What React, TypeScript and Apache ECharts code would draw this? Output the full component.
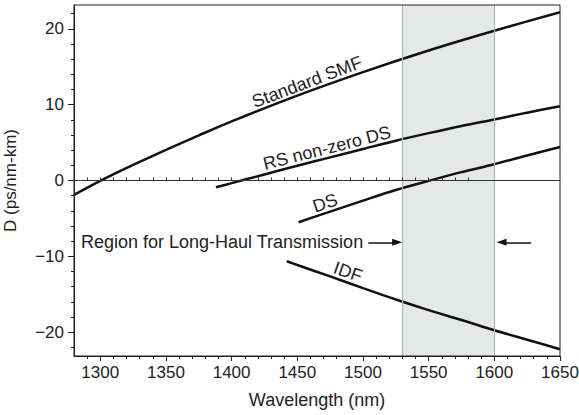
import React, { useEffect, useRef } from "react";
import * as echarts from "echarts";

// Wavelength (nm) / dispersion D (ps/nm-km) readings
const wlSMF = [1280, 1300, 1325, 1350, 1375, 1400, 1450, 1500, 1550, 1600, 1650];
const dSMF = [-1.9, -0.05, 2.05, 4.05, 5.95, 7.8, 11.2, 14.3, 17.15, 19.75, 22.2];

const wlRS = [1388, 1400, 1425, 1450, 1475, 1500, 1525, 1550, 1575, 1600, 1625, 1650];
const dRS = [-0.9, -0.35, 0.8, 1.95, 3.05, 4.15, 5.25, 6.25, 7.2, 8.05, 8.95, 9.8];

const wlDS = [1451, 1475, 1500, 1525, 1550, 1575, 1600, 1625, 1650];
const dDS = [-5.5, -4.1, -2.65, -1.25, -0.05, 1.1, 2.15, 3.3, 4.43];

const wlIDF = [1442, 1450, 1475, 1500, 1525, 1550, 1575, 1600, 1625, 1650];
const dIDF = [-10.65, -11.15, -12.65, -14.2, -15.7, -17.1, -18.4, -19.75, -21.0, -22.25];

// Axes
const xMin = 1280;
const xMax = 1650;
const yMin = -23.15;
const yMax = 23.15;
const xMajorTicks = [1300, 1350, 1400, 1450, 1500, 1550, 1600, 1650];
const xMinorTicks = [
  1290, 1300, 1310, 1320, 1330, 1340, 1350, 1360, 1370, 1380, 1390, 1400, 1410, 1420,
  1430, 1440, 1450, 1460, 1470, 1480, 1490, 1500, 1510, 1520, 1530, 1540, 1550, 1560,
  1570, 1580, 1590, 1600, 1610, 1620, 1630, 1640, 1650,
];
const zeroLineTicks = [
  1290, 1300, 1310, 1320, 1330, 1340, 1350, 1360, 1370, 1380, 1390, 1400, 1410, 1420,
  1430, 1440, 1450, 1460, 1470, 1480, 1490, 1500, 1510, 1520, 1530, 1540, 1550, 1560,
  1570, 1580,
];
const yMajorTicks = [-20, -10, 0, 10, 20];
const yMinorTicks = [-22, -18, -16, -14, -12, -8, -6, -4, -2, 2, 4, 6, 8, 12, 14, 16, 18, 22];

// Long-haul band and arrows
const bandStart = 1530;
const bandEnd = 1600;
const arrowD = -8.15;
const arrowLeftFrom = 1504;
const arrowLeftTo = 1526;
const arrowRightFrom = 1628;
const arrowRightTo = 1605.5;

const FONT = "'Liberation Sans', Arial, Helvetica, sans-serif";
const INK = "#222";

const pairs = (xs: number[], ys: number[]) => xs.map((x, i) => [x, ys[i]]);

const curve = (name: string, xs: number[], ys: number[]) => ({
  name,
  type: "line",
  data: pairs(xs, ys),
  showSymbol: false,
  symbol: "none",
  smooth: 0.3,
  z: 4,
  lineStyle: { color: "#111", width: 2.5 },
  silent: true,
});

const txt = (text: string, x: number, y: number, rotation: number, size = 18, align = "center") => ({
  type: "text",
  x,
  y,
  rotation,
  z: 20,
  style: {
    text,
    fill: INK,
    fontSize: size,
    fontFamily: FONT,
    align,
    textAlign: align,
    verticalAlign: "middle",
    textVerticalAlign: "middle",
  },
});

export default function App() {
  const ref = useRef<HTMLDivElement>(null);

  useEffect(() => {
    if (!ref.current) return;
    const chart = echarts.init(ref.current, null, { renderer: "svg" });
    const commonX = { type: "value", min: xMin, max: xMax, splitLine: { show: false }, gridIndex: 0 };
    const commonY = { type: "value", min: yMin, max: yMax, splitLine: { show: false }, gridIndex: 0 };
    chart.setOption({
      animation: false,
      textStyle: { fontFamily: FONT, color: INK },
      grid: {
        left: 74,
        right: 19,
        top: 5,
        bottom: 59,
        containLabel: false,
        outerBoundsMode: "none",
        show: true,
        borderColor: INK,
        borderWidth: 1,
        backgroundColor: "transparent",
        z: 10,
      },
      xAxis: [
        {
          ...commonX,
          position: "bottom",
          name: "Wavelength (nm)",
          nameLocation: "middle",
          nameGap: 35,
          nameTextStyle: { fontSize: 18, color: INK, fontFamily: FONT },
          axisLine: { show: true, onZero: false, lineStyle: { color: INK, width: 1 } },
          axisTick: { show: true, inside: false, length: 5, customValues: xMajorTicks, lineStyle: { color: INK } },
          axisLabel: {
            show: true,
            customValues: xMajorTicks,
            fontSize: 17,
            color: INK,
            margin: 8,
            fontFamily: FONT,
            formatter: (v: number) => String(v),
          },
        },
        {
          ...commonX,
          position: "bottom",
          axisLine: { show: false, onZero: false },
          axisTick: { show: true, inside: false, length: 3, customValues: xMinorTicks, lineStyle: { color: INK } },
          axisLabel: { show: false },
        },
        {
          ...commonX,
          position: "bottom",
          z: 5,
          axisLine: { show: true, onZero: true, onZeroAxisIndex: 0, lineStyle: { color: "#333", width: 1 } },
          axisTick: { show: true, inside: true, length: 3, customValues: zeroLineTicks, lineStyle: { color: "#333" } },
          axisLabel: { show: false },
        },
      ],
      yAxis: [
        {
          ...commonY,
          position: "left",
          name: "D (ps/nm-km)",
          nameLocation: "middle",
          nameGap: 55,
          nameTextStyle: { fontSize: 17, color: INK, fontFamily: FONT },
          axisLine: { show: true, onZero: false, lineStyle: { color: INK, width: 1 } },
          axisTick: { show: true, inside: false, length: 6, customValues: yMajorTicks, lineStyle: { color: INK } },
          axisLabel: {
            show: true,
            customValues: yMajorTicks,
            fontSize: 17,
            color: INK,
            margin: 10,
            fontFamily: FONT,
            formatter: (v: number) => String(v).replace("-", "\u2212"),
          },
        },
        {
          ...commonY,
          position: "left",
          axisLine: { show: false, onZero: false },
          axisTick: { show: true, inside: false, length: 3, customValues: yMinorTicks, lineStyle: { color: INK } },
          axisLabel: { show: false },
        },
      ],
      series: [
        {
          name: "band",
          type: "line",
          data: [],
          z: 1,
          silent: true,
          markArea: {
            silent: true,
            itemStyle: { color: "#e6e8e8", borderWidth: 0 },
            data: [[{ xAxis: bandStart }, { xAxis: bandEnd }]],
          },
          markLine: {
            silent: true,
            symbol: "none",
            label: { show: false },
            lineStyle: { color: "#b4b6b6", width: 1.2, type: "solid" },
            data: [{ xAxis: bandStart }, { xAxis: bandEnd }],
          },
        },
        curve("Standard SMF", wlSMF, dSMF),
        curve("RS non-zero DS", wlRS, dRS),
        curve("DS", wlDS, dDS),
        curve("IDF", wlIDF, dIDF),
        {
          name: "arrows",
          type: "line",
          data: [],
          z: 6,
          silent: true,
          markLine: {
            silent: true,
            symbol: ["none", "triangle"],
            symbolSize: [7, 10],
            label: { show: false },
            lineStyle: { color: "#111", width: 1.5, type: "solid" },
            data: [
              [{ coord: [arrowLeftFrom, arrowD] }, { coord: [arrowLeftTo, arrowD] }],
              [{ coord: [arrowRightFrom, arrowD] }, { coord: [arrowRightTo, arrowD] }],
            ],
          },
        },
      ],
      graphic: [
        txt("Standard SMF", 307, 82, 0.36),
        txt("RS non-zero DS", 327, 148, 0.25),
        txt("DS", 325, 203, 0.33),
        txt("IDF", 348, 272, -0.34),
        txt("Region for Long-Haul Transmission", 81, 242, 0, 18, "left"),
      ],
    });
    return () => chart.dispose();
  }, []);

  return (
    <div
      ref={ref}
      style={{ position: "absolute", left: 0, top: 0, width: 579, height: 415 }}
    />
  );
}
